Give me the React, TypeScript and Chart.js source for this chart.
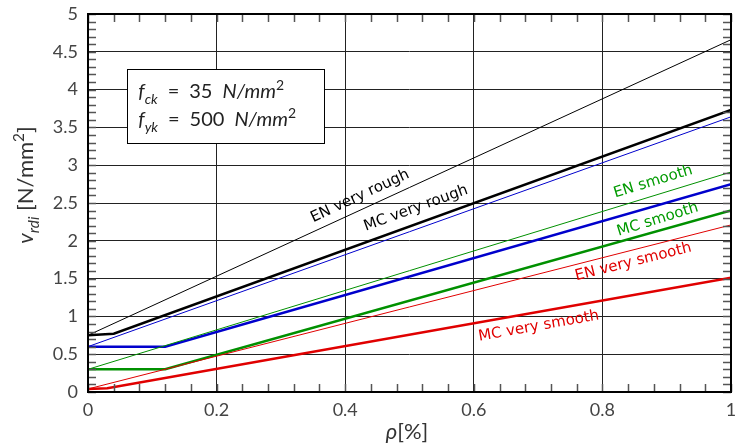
import React, { useEffect, useRef } from 'react';
import { Chart, registerables } from 'chart.js';

Chart.register(...registerables);

// ---- data (rho in %, v_rdi in N/mm^2) ----
const rhoEnds = [0, 1];
const enVeryRough = [0.75, 4.66];
const enRough = [0.6, 3.64];
const enSmooth = [0.3, 2.91];
const enVerySmooth = [0.04, 2.21];

const mcVeryRoughRho = [0, 0.04, 1];
const mcVeryRough = [0.75, 0.77, 3.73];
const mcRoughRho = [0, 0.12, 1];
const mcRough = [0.6, 0.6, 2.75];
const mcSmoothRho = [0, 0.12, 1];
const mcSmooth = [0.3, 0.3, 2.4];
const mcVerySmoothRho = [0, 0.03, 1];
const mcVerySmooth = [0.04, 0.05, 1.51];

const xTicks = [0, 0.2, 0.4, 0.6, 0.8, 1];
const xTickLabels = ['0', '0.2', '0.4', '0.6', '0.8', '1'];
const yTicks = [0, 0.5, 1, 1.5, 2, 2.5, 3, 3.5, 4, 4.5, 5];
const yTickLabels = ['0', '0.5', '1', '1.5', '2', '2.5', '3', '3.5', '4', '4.5', '5'];

const curveLabels = ['EN very rough', 'MC very rough', 'EN smooth', 'MC smooth', 'EN very smooth', 'MC very smooth'];
const curveLabelRho = [0.423, 0.51, 0.879, 0.886, 0.848, 0.701];
const curveLabelV = [2.59, 2.43, 2.78, 2.28, 1.72, 0.87];
const curveLabelAngle = [25, 20, 17, 17, 14, 10];
const curveLabelColor = ['#000000', '#000000', '#009a00', '#009a00', '#e00000', '#e00000'];

const BLACK = '#000000';
const BLUE = '#0000cc';
const GREEN = '#009000';
const RED = '#e00000';

type Part = { t: string; it?: boolean; sub?: boolean; sup?: boolean };

function drawRich(ctx: CanvasRenderingContext2D, parts: Part[], x: number, y: number, size: number, family: string, color: string, align: 'left' | 'center') {
  const fonts = parts.map((p) => {
    const s = p.sub || p.sup ? size * 0.7 : size;
    return `${p.it ? 'italic ' : ''}${s}px ${family}`;
  });
  let total = 0;
  const widths = parts.map((p, i) => {
    ctx.font = fonts[i];
    const w = ctx.measureText(p.t).width;
    total += w;
    return w;
  });
  let cx = align === 'center' ? x - total / 2 : x;
  ctx.fillStyle = color;
  ctx.textBaseline = 'alphabetic';
  ctx.textAlign = 'left';
  parts.forEach((p, i) => {
    ctx.font = fonts[i];
    const dy = p.sub ? size * 0.28 : p.sup ? -size * 0.42 : 0;
    ctx.fillText(p.t, cx, y + dy);
    cx += widths[i];
  });
}

const decorPlugin = {
  id: 'decor',
  afterDatasetsDraw(chart: any) {
    const ctx: CanvasRenderingContext2D = chart.ctx;
    const { left, right, top, bottom } = chart.chartArea;
    const xs = chart.scales.x;
    const ys = chart.scales.y;
    ctx.save();
    // minor ticks on all four sides
    ctx.strokeStyle = '#555';
    ctx.lineWidth = 1.5;
    const tl = 8;
    for (let i = 0; i <= 25; i++) {
      const v = i * 0.04;
      const px = Math.round(xs.getPixelForValue(v)) + 0.5;
      ctx.beginPath();
      ctx.moveTo(px, bottom);
      ctx.lineTo(px, bottom - tl);
      ctx.moveTo(px, top);
      ctx.lineTo(px, top + tl);
      ctx.stroke();
    }
    for (let i = 0; i <= 50; i++) {
      const v = i * 0.1;
      const py = Math.round(ys.getPixelForValue(v)) + 0.5;
      ctx.beginPath();
      ctx.moveTo(left, py);
      ctx.lineTo(left + tl, py);
      ctx.moveTo(right, py);
      ctx.lineTo(right - tl, py);
      ctx.stroke();
    }
    // frame
    ctx.strokeStyle = '#000';
    ctx.lineWidth = 2;
    ctx.strokeRect(left, top, right - left, bottom - top);

    // tick labels
    ctx.fillStyle = '#444';
    ctx.font = '18px Lato';
    ctx.textAlign = 'center';
    ctx.textBaseline = 'middle';
    xTicks.forEach((v, i) => {
      ctx.fillText(xTickLabels[i], xs.getPixelForValue(v), bottom + 18);
    });
    ctx.textAlign = 'right';
    yTicks.forEach((v, i) => {
      ctx.fillText(yTickLabels[i], left - 10, ys.getPixelForValue(v));
    });

    // curve labels
    curveLabels.forEach((txt, i) => {
      const px = xs.getPixelForValue(curveLabelRho[i]);
      const py = ys.getPixelForValue(curveLabelV[i]);
      ctx.save();
      ctx.translate(px, py);
      ctx.rotate((-curveLabelAngle[i] * Math.PI) / 180);
      ctx.font = '15px "DejaVu Sans"';
      ctx.fillStyle = curveLabelColor[i];
      ctx.textAlign = 'center';
      ctx.textBaseline = 'middle';
      ctx.fillText(txt, 0, 0);
      ctx.restore();
    });

    // parameter box
    const bx0 = xs.getPixelForValue(0.061);
    const bx1 = xs.getPixelForValue(0.367);
    const by0 = ys.getPixelForValue(4.27);
    const by1 = ys.getPixelForValue(3.29);
    ctx.fillStyle = '#fff';
    ctx.fillRect(bx0, by0, bx1 - bx0, by1 - by0);
    ctx.strokeStyle = '#000';
    ctx.lineWidth = 1;
    ctx.strokeRect(Math.round(bx0) + 0.5, Math.round(by0) + 0.5, Math.round(bx1 - bx0), Math.round(by1 - by0));
    const fam = 'Lato';
    drawRich(ctx, [
      { t: 'f', it: true }, { t: 'ck', it: true, sub: true }, { t: '\u2002=\u200235\u2002' }, { t: 'N/mm', it: true }, { t: '2', sup: true },
    ], bx0 + 11, by0 + 29, 20, fam, '#222', 'left');
    drawRich(ctx, [
      { t: 'f', it: true }, { t: 'yk', it: true, sub: true }, { t: '\u2002=\u2002500\u2002' }, { t: 'N/mm', it: true }, { t: '2', sup: true },
    ], bx0 + 11, by0 + 57, 20, fam, '#222', 'left');

    // axis titles
    ctx.save();
    ctx.translate(33, 185);
    ctx.rotate(-Math.PI / 2);
    drawRich(ctx, [
      { t: 'v', it: true }, { t: 'rdi', it: true, sub: true }, { t: ' [N/mm' }, { t: '2', sup: true }, { t: ']' },
    ], 0, 0, 22, fam, '#333', 'center');
    ctx.restore();
    drawRich(ctx, [{ t: 'ρ', it: true }, { t: '[%]' }], 407, 439, 22, fam, '#333', 'center');
    ctx.restore();
  },
};

export default function App() {
  const ref = useRef<HTMLCanvasElement>(null);
  useEffect(() => {
    const canvas = ref.current;
    if (!canvas) return;
    const pts = (xs: number[], ys: number[]) => xs.map((x, i) => ({ x, y: ys[i] }));
    const ds = (data: any[], color: string, width: number) => ({
      data,
      borderColor: color,
      backgroundColor: color,
      borderWidth: width,
      pointRadius: 0,
      tension: 0,
      fill: false,
    });
    const chart = new Chart(canvas, {
      type: 'line',
      data: {
        datasets: [
          ds(pts(rhoEnds, enVeryRough), BLACK, 1),
          ds(pts(rhoEnds, enRough), BLUE, 1),
          ds(pts(rhoEnds, enSmooth), GREEN, 1),
          ds(pts(rhoEnds, enVerySmooth), RED, 1),
          ds(pts(mcVeryRoughRho, mcVeryRough), BLACK, 2.5),
          ds(pts(mcRoughRho, mcRough), BLUE, 2.5),
          ds(pts(mcSmoothRho, mcSmooth), GREEN, 2.5),
          ds(pts(mcVerySmoothRho, mcVerySmooth), RED, 2.5),
        ] as any,
      },
      options: {
        responsive: false,
        animation: false,
        layout: { padding: { top: 14, right: 6, left: 88, bottom: 53 } },
        plugins: { legend: { display: false }, tooltip: { enabled: false } },
        scales: {
          x: {
            type: 'linear',
            min: 0,
            max: 1,
            afterBuildTicks: (s: any) => { s.ticks = xTicks.map((v) => ({ value: v })); },
            ticks: { display: false },
            grid: { color: '#222', lineWidth: 1, drawTicks: false },
            border: { display: false },
          },
          y: {
            type: 'linear',
            min: 0,
            max: 5,
            afterBuildTicks: (s: any) => { s.ticks = yTicks.map((v) => ({ value: v })); },
            ticks: { display: false },
            grid: { color: '#222', lineWidth: 1, drawTicks: false },
            border: { display: false },
          },
        },
      } as any,
      plugins: [decorPlugin],
    });
    return () => chart.destroy();
  }, []);
  return (
    <div style={{ position: 'fixed', left: 0, top: 0, width: 737, height: 445, background: '#fff' }}>
      <canvas ref={ref} width={737} height={445} style={{ display: 'block' }} />
    </div>
  );
}
